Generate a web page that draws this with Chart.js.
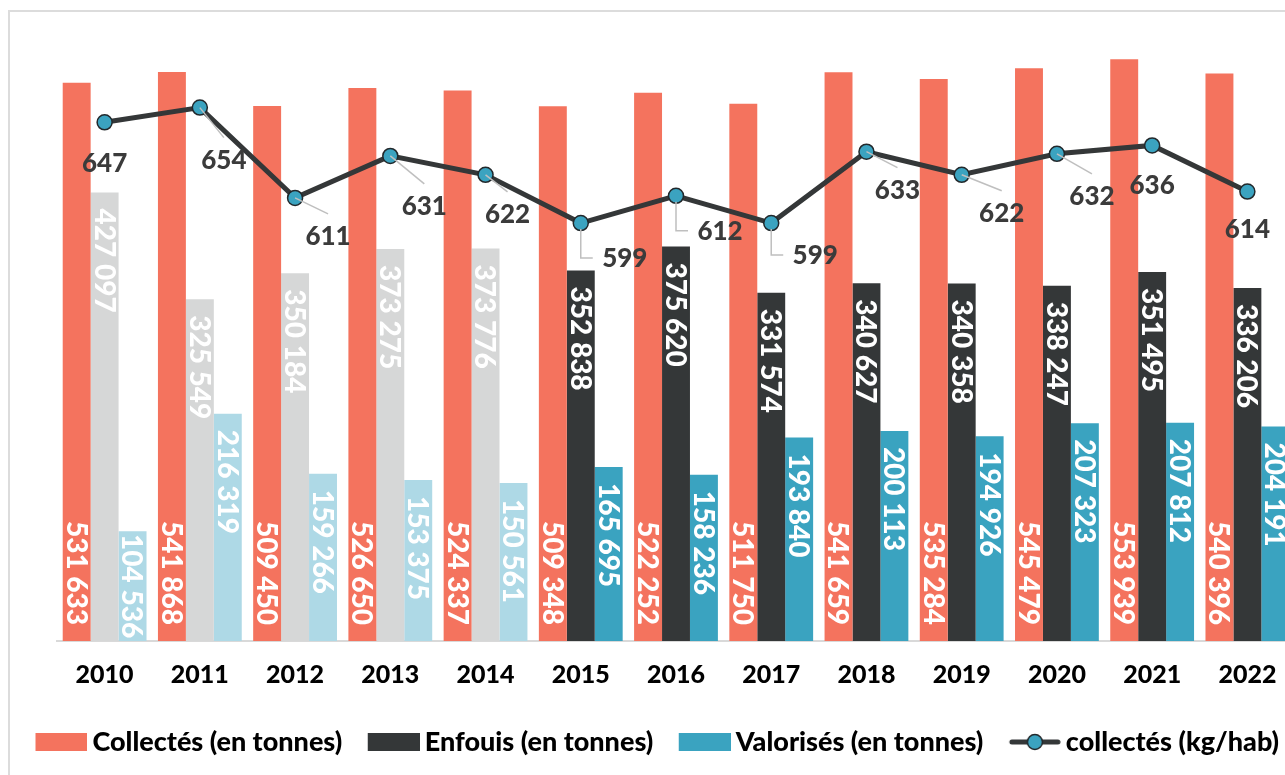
<!DOCTYPE html>
<html>
<head>
<meta charset="utf-8">
<script src="https://cdn.jsdelivr.net/npm/chart.js@4.4.1/dist/chart.umd.min.js"></script>
<style>
html,body{margin:0;padding:0;overflow:hidden;background:#fff}
canvas{display:block}
</style>
</head>
<body>
<canvas id="c" width="1313" height="775" style="width:1313px;height:775px"></canvas>
<script>
// ---- data ----
const categories = ['2010','2011','2012','2013','2014','2015','2016','2017','2018','2019','2020','2021','2022'];
const collectes  = [531633, 541868, 509450, 526650, 524337, 509348, 522252, 511750, 541659, 535284, 545479, 553939, 540396];
const enfouis    = [427097, 325549, 350184, 373275, 373776, 352838, 375620, 331574, 340627, 340358, 338247, 351495, 336206];
const valorises  = [104536, 216319, 159266, 153375, 150561, 165695, 158236, 193840, 200113, 194926, 207323, 207812, 204191];
const kgParHab   = [647, 654, 611, 631, 622, 599, 612, 599, 633, 622, 632, 636, 614];
const seriesNames = ['Collectés (en tonnes)', 'Enfouis (en tonnes)', 'Valorisés (en tonnes)', 'collectés (kg/hab)'];

// ---- styles ----
const RED = '#F4735E', DARK = '#343738', TEAL = '#3AA3C0', LGREY = '#D6D7D7', LBLUE = '#AED9E6';
const LINE_COL = '#343738', POINT_FILL = '#3BA3C0', POINT_EDGE = '#22282B';
const FONT = 'Lato';
const W8 = '900';
const LEG_FS = 27, LEG_PSW = 45;
const earlyYear = c => Number(c) < 2015;
// label placement for the kg/hab labels (offsets relative to each point)
const lineLabelPlacement = [
  {dx:0,  dy:40, leader:'none'},
  {dx:24, dy:52, leader:'diag'},
  {dx:33, dy:38, leader:'diag'},
  {dx:34, dy:50, leader:'diag'},
  {dx:22, dy:39, leader:'diag'},
  {dx:44, dy:35, leader:'elbow'},
  {dx:44, dy:35, leader:'elbow'},
  {dx:44, dy:32, leader:'elbow'},
  {dx:31, dy:38, leader:'diag'},
  {dx:40, dy:38, leader:'diag'},
  {dx:35, dy:42, leader:'diag'},
  {dx:0,  dy:39, leader:'none'},
  {dx:0,  dy:37, leader:'none'}
];
const barLabelAnchor = ['base', 'end', 'end'];

const fmt = n => String(n).replace(/\B(?=(\d{3})+(?!\d))/g, ' ');

// legend marker images (marker sits at right side so the text gap is ~5px)
const IMG_W = LEG_PSW + LEG_FS - 10;
function makeRectImg(color) {
  const c = document.createElement('canvas');
  c.width = IMG_W; c.height = 18;
  const g = c.getContext('2d');
  g.fillStyle = color; g.fillRect(IMG_W - 52, 0, 52, 18);
  return c;
}
function makeLineImg() {
  const c = document.createElement('canvas');
  c.width = IMG_W; c.height = 20;
  const g = c.getContext('2d');
  const x0 = IMG_W - 52;
  g.strokeStyle = LINE_COL; g.lineWidth = 5; g.lineCap = 'round';
  g.beginPath(); g.moveTo(x0 + 3, 10); g.lineTo(IMG_W - 3, 10); g.stroke();
  g.beginPath(); g.arc(x0 + 26, 10, 7.5, 0, Math.PI * 2);
  g.fillStyle = POINT_FILL; g.fill();
  g.lineWidth = 1.5; g.strokeStyle = POINT_EDGE; g.stroke();
  return c;
}

const framePlugin = {
  id: 'frame',
  beforeDraw(chart) {
    const ctx = chart.ctx;
    ctx.save();
    ctx.fillStyle = '#fff';
    ctx.fillRect(0, 0, chart.width, chart.height);
    ctx.strokeStyle = '#DCDCDC';
    ctx.lineWidth = 2;
    ctx.strokeRect(9, 11, chart.width + 50, chart.height + 50);
    ctx.restore();
  }
};

const labelPlugin = {
  id: 'labels',
  afterDatasetsDraw(chart) {
    const ctx = chart.ctx;
    // bar labels
    const bf = 28, capB = bf * 0.72;
    for (let di = 0; di < 3; di++) {
      const meta = chart.getDatasetMeta(di);
      const vals = chart.data.datasets[di].data;
      meta.data.forEach((bar, i) => {
        const p = bar.getProps(['x', 'y', 'base'], true);
        const text = fmt(vals[i]);
        ctx.save();
        ctx.font = `${W8} ${bf}px ${FONT}`;
        ctx.fillStyle = '#fff';
        ctx.textAlign = 'left';
        ctx.textBaseline = 'alphabetic';
        const tw = ctx.measureText(text).width;
        const h = p.base - p.y;
        let start;
        if (tw + 24 > h) start = p.y + (h - tw) / 2;
        else if (barLabelAnchor[di] === 'base') start = p.base - 16 - tw;
        else start = p.y + 16;
        ctx.translate(p.x, start);
        ctx.rotate(Math.PI / 2);
        ctx.fillText(text, 0, capB / 2);
        ctx.restore();
      });
    }
    // line labels
    const meta = chart.getDatasetMeta(3);
    const vals = chart.data.datasets[3].data;
    const lf = 26, capL = lf * 0.72;
    meta.data.forEach((pt, i) => {
      const pl = lineLabelPlacement[i];
      const cx = pt.x + pl.dx, cy = pt.y + pl.dy;
      ctx.save();
      ctx.strokeStyle = '#BFBFBF';
      ctx.lineWidth = 1.5;
      if (pl.leader === 'diag') {
        ctx.beginPath(); ctx.moveTo(pt.x, pt.y); ctx.lineTo(cx, cy - 22); ctx.stroke();
      } else if (pl.leader === 'elbow') {
        ctx.beginPath(); ctx.moveTo(pt.x, pt.y + 6); ctx.lineTo(pt.x, cy); ctx.lineTo(cx - 32, cy); ctx.stroke();
      }
      ctx.font = `${W8} ${lf}px ${FONT}`;
      ctx.fillStyle = '#3B3B3B';
      ctx.textAlign = 'center';
      ctx.textBaseline = 'alphabetic';
      ctx.fillText(String(vals[i]), cx, cy + capL / 2);
      ctx.restore();
    });
  }
};

function build() {
  const legendImgs = [makeRectImg(RED), makeRectImg(DARK), makeRectImg(TEAL), makeLineImg()];
  new Chart(document.getElementById('c'), {
    type: 'bar',
    data: {
      labels: categories,
      datasets: [
        { label: seriesNames[0], data: collectes, backgroundColor: RED, order: 1, yAxisID: 'y' },
        { label: seriesNames[1], data: enfouis, backgroundColor: categories.map(c => earlyYear(c) ? LGREY : DARK), order: 1, yAxisID: 'y' },
        { label: seriesNames[2], data: valorises, backgroundColor: categories.map(c => earlyYear(c) ? LBLUE : TEAL), order: 1, yAxisID: 'y' },
        { type: 'line', label: seriesNames[3], data: kgParHab, yAxisID: 'y2', order: 0,
          borderColor: LINE_COL, borderWidth: 5, tension: 0,
          pointRadius: 7.5, pointBackgroundColor: POINT_FILL, pointBorderColor: POINT_EDGE, pointBorderWidth: 1.5 }
      ]
    },
    options: {
      responsive: false,
      animation: false,
      devicePixelRatio: 1,
      datasets: { bar: { categoryPercentage: 0.88, barPercentage: 1.0 } },
      layout: { padding: { top: 11, left: 0, right: 0, bottom: 9.5 }, autoPadding: false },
      scales: {
        x: {
          grid: { display: false },
          border: { display: true, color: '#D9D9D9', width: 2 },
          ticks: { color: '#000', padding: 11, font: { family: FONT, weight: W8, size: 25 } },
          afterFit(s) { s.height = 63.5; }
        },
        y: {
          position: 'left', min: 0, max: 600000,
          ticks: { display: false }, grid: { display: false }, border: { display: false },
          afterFit(s) { s.width = 57; }
        },
        y2: {
          position: 'right', min: 400, max: 700,
          ticks: { display: false }, grid: { display: false }, border: { display: false },
          afterFit(s) { s.width = 18; }
        }
      },
      plugins: {
        tooltip: { enabled: false },
        legend: {
          position: 'bottom',
          labels: {
            usePointStyle: true,
            pointStyleWidth: LEG_PSW,
            padding: 24,
            color: '#000',
            font: { family: FONT, weight: W8, size: LEG_FS },
            sort: (a, b) => a.datasetIndex - b.datasetIndex,
            generateLabels(chart) {
              const items = Chart.defaults.plugins.legend.labels.generateLabels(chart);
              items.forEach(it => { it.pointStyle = legendImgs[it.datasetIndex]; });
              return items;
            }
          }
        }
      }
    },
    plugins: [framePlugin, labelPlugin]
  });
}

if (document.fonts && document.fonts.load) {
  Promise.all([document.fonts.load(`${W8} 25px ${FONT}`), document.fonts.load(`${W8} 27px ${FONT}`)])
    .then(build, build);
} else build();
</script>
</body>
</html>
